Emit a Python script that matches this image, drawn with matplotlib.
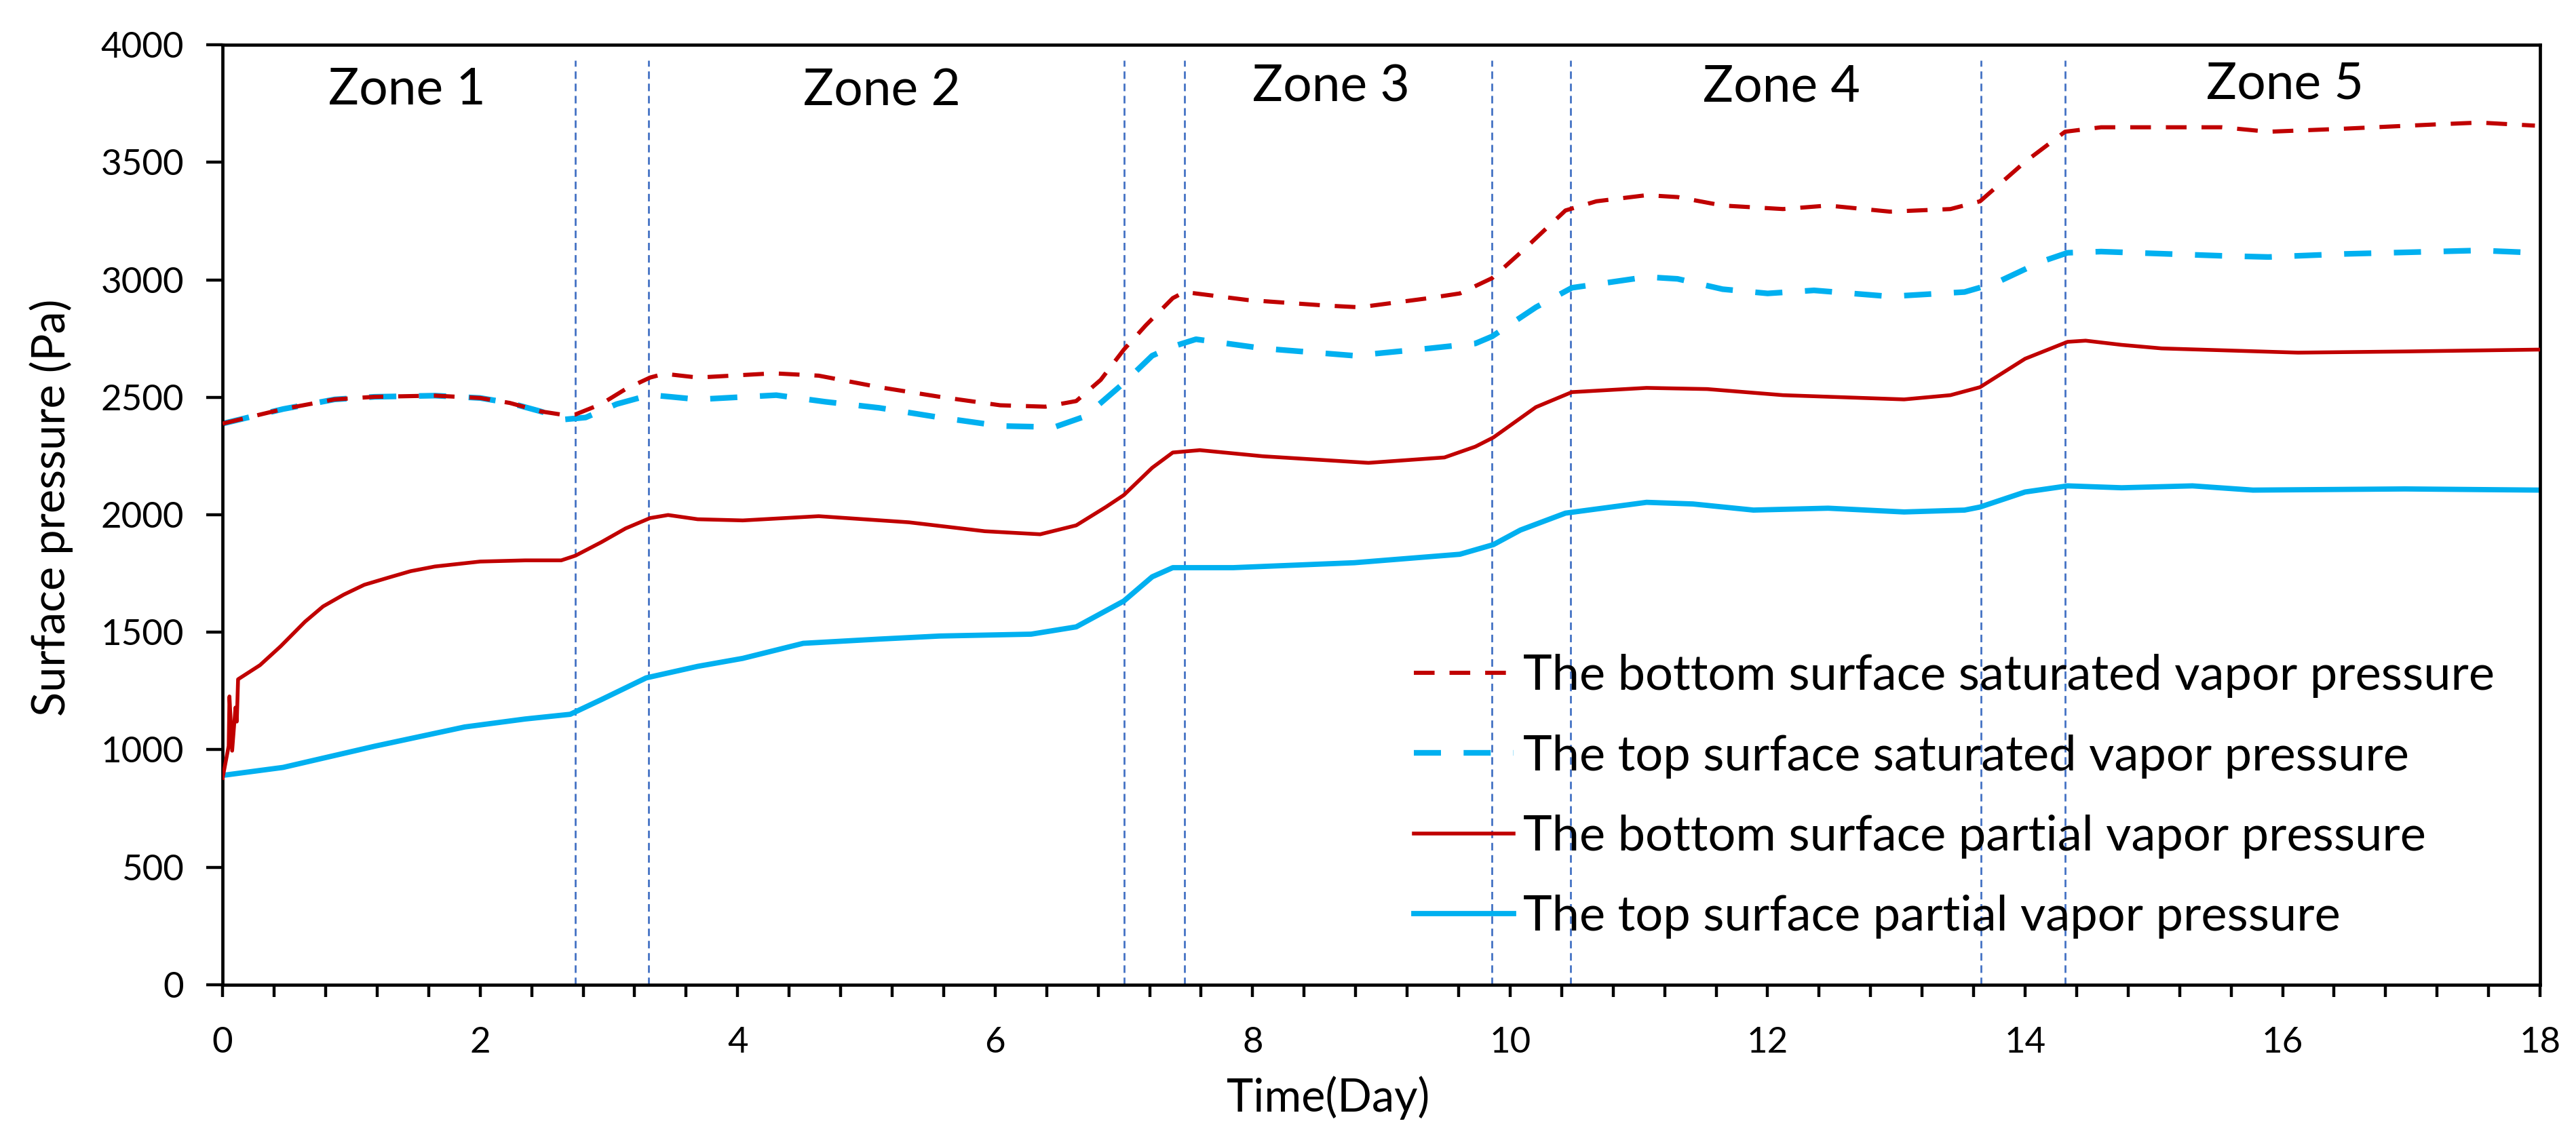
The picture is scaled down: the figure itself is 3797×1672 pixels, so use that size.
import matplotlib
matplotlib.use('Agg')
import matplotlib.pyplot as plt
import numpy as np

plt.rcParams['font.family'] = ['Lato', 'DejaVu Sans']

# bottom surface saturated vapor pressure (red dashed)
x_bot_sat = [0, 0.47, 0.87, 1.18, 1.65, 2.0, 2.23, 2.47, 2.66, 2.74, 2.94, 3.13, 3.32, 3.43, 3.69,
             4.28, 4.63, 5.1, 5.57, 6.04, 6.39, 6.63, 6.82, 7.0, 7.17, 7.38, 7.47, 7.96, 8.55, 8.83,
             9.37, 9.61, 9.86, 10.08, 10.43, 10.67, 11.06, 11.3, 11.65, 12.12, 12.47, 12.95, 13.42,
             13.65, 14.0, 14.31, 14.59, 15.53, 15.89, 16.48, 17.18, 17.53, 17.96]
y_bot_sat = [2388, 2450, 2491, 2502, 2507, 2497, 2476, 2440, 2424, 2427, 2471, 2535, 2584, 2600, 2584,
             2602, 2592, 2543, 2502, 2466, 2460, 2484, 2574, 2703, 2806, 2922, 2948, 2914, 2891, 2883,
             2922, 2942, 3007, 3115, 3295, 3334, 3360, 3352, 3316, 3301, 3316, 3290, 3301,
             3334, 3502, 3630, 3649, 3649, 3630, 3643, 3661, 3669, 3656]

# top surface saturated vapor pressure (blue dashed)
x_top_sat = [0, 0.47, 0.87, 1.18, 1.65, 2.0, 2.23, 2.47, 2.66, 2.82, 3.06, 3.32, 3.48, 3.69,
             4.3, 4.68, 5.1, 5.57, 6.04, 6.46, 6.7, 7.0, 7.22, 7.38, 7.56, 8.08, 8.79, 9.37, 9.73,
             9.86, 10.2, 10.48, 11.06, 11.3, 11.65, 12.0, 12.36, 12.95, 13.53, 13.77, 14.12, 14.33,
             14.59, 15.53, 15.89, 16.48, 17.18, 17.53, 17.96]
y_top_sat = [2388, 2450, 2491, 2502, 2507, 2497, 2476, 2440, 2406, 2414, 2471, 2510, 2502, 2491,
             2509, 2481, 2455, 2414, 2378, 2373, 2419, 2561, 2677, 2716, 2747, 2708, 2677, 2708, 2729,
             2759, 2883, 2966, 3012, 3004, 2960, 2942, 2955, 2929, 2948, 2986, 3076, 3115,
             3120, 3102, 3097, 3110, 3120, 3125, 3115]

# bottom surface partial vapor pressure (red solid)
x_bot_par = [0, 0.047, 0.053, 0.074, 0.10, 0.11, 0.12, 0.29, 0.45, 0.64, 0.78, 0.94, 1.1, 1.29, 1.46,
             1.65, 2.0, 2.35, 2.63, 2.74, 2.94, 3.13, 3.32, 3.46, 3.69, 4.04, 4.63, 5.33, 5.92, 6.35,
             6.63, 6.86, 7.0, 7.22, 7.38, 7.59, 8.08, 8.9, 9.49, 9.73, 9.87, 10.2, 10.48, 11.06, 11.53,
             12.12, 13.06, 13.42, 13.65, 14.0, 14.33, 14.47, 14.75, 15.06, 16.12, 16.95, 18.0]
y_bot_par = [880, 1016, 1227, 996, 1180, 1120, 1300, 1360, 1440, 1545, 1610, 1660, 1702, 1733, 1760,
             1780, 1801, 1806, 1806, 1826, 1883, 1942, 1986, 1999, 1981, 1976, 1994, 1968, 1930, 1917,
             1955, 2033, 2084, 2200, 2265, 2275, 2249, 2221, 2244, 2290, 2329, 2458, 2522, 2540, 2535,
             2509, 2491, 2509, 2543, 2664, 2736, 2741, 2723, 2708, 2690, 2695, 2703]

# top surface partial vapor pressure (blue solid)
x_top_par = [0, 0.47, 1.18, 1.88, 2.35, 2.7, 2.94, 3.29, 3.69, 4.04, 4.51, 5.1, 5.57, 6.28, 6.63,
             7.0, 7.22, 7.38, 7.85, 8.79, 9.61, 9.87, 10.08, 10.43, 11.06, 11.42, 11.89, 12.47,
             13.06, 13.53, 13.65, 14.0, 14.33, 14.75, 15.3, 15.77, 16.95, 18.0]
y_top_par = [891, 925, 1015, 1097, 1131, 1151, 1213, 1306, 1355, 1389, 1453, 1471, 1484, 1492, 1523,
             1633, 1736, 1775, 1775, 1796, 1832, 1873, 1935, 2007, 2053, 2046, 2020, 2028,
             2012, 2020, 2033, 2097, 2123, 2115, 2123, 2105, 2110, 2105]

zone_bounds = [2.74, 3.31, 7.0, 7.47, 9.86, 10.47, 13.66, 14.31]
zone_names = ['Zone 1', 'Zone 2', 'Zone 3', 'Zone 4', 'Zone 5']
zone_x = [1.43, 5.12, 8.61, 12.11, 16.02]
zone_y = [3748, 3742, 3760, 3760, 3772]

labels = ['The bottom surface saturated vapor pressure',
          'The top surface saturated vapor pressure',
          'The bottom surface partial vapor pressure',
          'The top surface partial vapor pressure']

red = '#C00000'
blue = '#00B0F0'

fig = plt.figure(figsize=(18.99, 8.36), dpi=200)
ax = fig.add_axes([0.0864, 0.1316, 0.8994, 0.8289])

for xb in zone_bounds:
  ax.plot([xb, xb], [0, 3935], color='#4472C4', lw=1.0, linestyle=(0, (4, 2.5)), zorder=1)

ax.plot(x_bot_sat, y_bot_sat, color=red, lw=2.2, linestyle=(0, (5, 3.6)), label=labels[0], zorder=3)
ax.plot(x_top_sat, y_top_sat, color=blue, lw=3.0, linestyle=(0, (4.8, 4)), label=labels[1], zorder=2)
ax.plot(x_bot_par, y_bot_par, color=red, lw=2.0, label=labels[2], zorder=3)
ax.plot(x_top_par, y_top_par, color=blue, lw=2.8, label=labels[3], zorder=2)

for name, zx, zy in zip(zone_names, zone_x, zone_y):
  ax.text(zx, zy, name, fontsize=27, ha='center', va='baseline')

ax.set_xlim(0, 18)
ax.set_ylim(0, 4000)
ax.set_xticks(np.arange(0, 19, 2))
ax.set_xticks(np.arange(0, 18.01, 0.4), minor=True)
ax.set_yticks(np.arange(0, 4001, 500))
ax.tick_params(axis='x', which='both', direction='out', length=6.5, width=1.6, labelsize=19, pad=16)
ax.tick_params(axis='y', which='both', direction='out', length=8.5, width=1.6, labelsize=19, pad=12)
for s in ax.spines.values():
  s.set_linewidth(1.7)
  s.set_color('black')

ax.set_xlabel('Time(Day)', fontsize=24)
ax.set_ylabel('Surface pressure (Pa)', fontsize=24)
ax.xaxis.set_label_coords(0.477, -0.097)
ax.yaxis.set_label_coords(-0.0644, 0.508)

ax.legend(loc='upper left', bbox_to_anchor=(0.514, 0.352), frameon=False, fontsize=26,
          handlelength=2.03, handletextpad=0.2, labelspacing=0.74, borderpad=0, borderaxespad=0)

fig.savefig('out.png', dpi=200)
